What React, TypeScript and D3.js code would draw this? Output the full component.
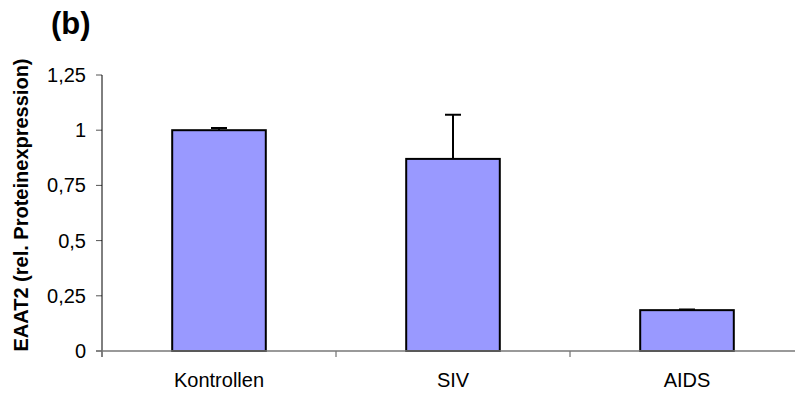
import React from "react";
import * as d3 from "d3";

const categories = ["Kontrollen", "SIV", "AIDS"];
const values = [1.0, 0.87, 0.185];
const errors = [0.01, 0.2, 0.003];
const yTicks = [0, 0.25, 0.5, 0.75, 1, 1.25];
const yTickLabels = ["0", "0,25", "0,5", "0,75", "1", "1,25"];

export default function App() {
  const W = 795, H = 394;
  const x0 = 102, x1 = 804;
  const y = d3.scaleLinear().domain([0, 1.25]).range([351, 75]);
  const x = d3.scaleBand().domain(categories).range([x0, x1]).paddingInner(0).paddingOuter(0);
  const bw = x.bandwidth() * 0.4;
  const font = "Liberation Sans, Arial, sans-serif";
  return (
    <svg width={W} height={H} style={{ position: "absolute", left: 0, top: 0 }} fontFamily={font}>
      <rect width={W} height={H} fill="#fff" />
      <text x={51} y={34} fontSize={31} fontWeight="bold">(b)</text>
      <text transform={`translate(28,205) rotate(-90)`} textAnchor="middle" fontSize={20} fontWeight="bold">EAAT2 (rel. Proteinexpression)</text>
      {yTicks.map((t, i) => (
        <g key={i}>
          <line x1={x0 - 6} x2={x0} y1={y(t)} y2={y(t)} stroke="#555" strokeWidth={1} />
          <text x={x0 - 16} y={y(t) + 7} textAnchor="end" fontSize={20}>{yTickLabels[i]}</text>
        </g>
      ))}
      {categories.map((c, i) => {
        const cx = x(c)! + x.bandwidth() / 2;
        return (
          <g key={c}>
            <line x1={cx} x2={cx} y1={y(values[i])} y2={y(values[i] + errors[i])} stroke="#000" strokeWidth={2} />
            <line x1={cx - 8} x2={cx + 8} y1={y(values[i] + errors[i])} y2={y(values[i] + errors[i])} stroke="#000" strokeWidth={2} />
            <rect x={cx - bw / 2} y={y(values[i])} width={bw} height={y(0) - y(values[i])} fill="#9999FF" stroke="#000" strokeWidth={2} />
            <text x={cx} y={387} textAnchor="middle" fontSize={20}>{c}</text>
          </g>
        );
      })}
      {[1, 2].map((k) => (
        <line key={k} x1={x0 + k * x.bandwidth()} x2={x0 + k * x.bandwidth()} y1={351} y2={357} stroke="#555" strokeWidth={1} />
      ))}
      <line x1={x0} x2={x0} y1={y(1.25)} y2={y(0) + 6} stroke="#000" strokeWidth={1} />
      <line x1={x0 - 6} x2={x1} y1={y(0)} y2={y(0)} stroke="#777" strokeWidth={1.5} />
    </svg>
  );
}
